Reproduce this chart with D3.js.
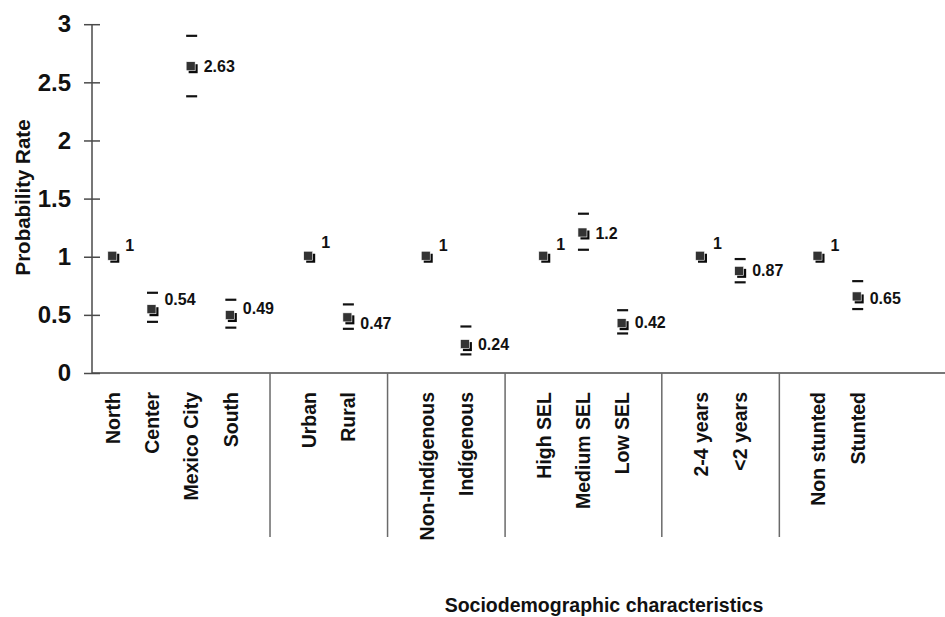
<!DOCTYPE html>
<html>
<head>
<meta charset="utf-8">
<script src="https://cdn.jsdelivr.net/npm/d3@7"></script>
<style>
  html, body { margin: 0; padding: 0; background: #fff; }
  svg { display: block; font-family: "Liberation Sans", Arial, sans-serif; }
</style>
</head>
<body>
<svg id="chart" width="945" height="617"></svg>
<script>
// Probability rate by sociodemographic characteristic (reference category = 1)
const categories = ["North", "Center", "Mexico City", "South",
                    "Urban", "Rural",
                    "Non-Indígenous", "Indígenous",
                    "High SEL", "Medium SEL", "Low SEL",
                    "2-4 years", "<2 years",
                    "Non stunted", "Stunted"];
const groupIndex = [0, 0, 0, 0, 1, 1, 2, 2, 3, 3, 3, 4, 4, 5, 5];
const rates   = [1, 0.54, 2.63, 0.49, 1, 0.47, 1, 0.24, 1, 1.2, 0.42, 1, 0.87, 1, 0.65];
const ciLower = [null, 0.44, 2.38, 0.39, null, 0.38, null, 0.16, null, 1.06, 0.34, null, 0.78, null, 0.55];
const ciUpper = [null, 0.69, 2.90, 0.63, null, 0.59, null, 0.40, null, 1.37, 0.54, null, 0.98, null, 0.79];
const yTicks = [0, 0.5, 1, 1.5, 2, 2.5, 3];
const yTickLabels = ["0", "0.5", "1", "1.5", "2", "2.5", "3"];
const yTitle = "Probability Rate";
const xTitle = "Sociodemographic characteristics";

// Each group is followed by one empty slot that holds the divider line
const slotOf = categories.map((c, i) => i + groupIndex[i]);
const nGroups = d3.max(groupIndex) + 1;
const nSlots = categories.length + nGroups - 1;
const dividerSlots = d3.range(nGroups - 1).map(g => d3.max(slotOf.filter((s, i) => groupIndex[i] === g)) + 1);

// Small vertical nudges for the value labels so they clear the whiskers
const labelShift = {
  "North": -11, "Urban": -14, "Non-Indígenous": -11, "High SEL": -12, "2-4 years": -13, "Non stunted": -11,
  "Center": -11, "Mexico City": -1, "South": -8, "Rural": 5, "Indígenous": -1,
  "Medium SEL": 0, "Low SEL": -2, "<2 years": -1, "Stunted": 1
};

const svg = d3.select("#chart");
const axisLeftX = 92, axisBottomY = 373;

const x = d3.scalePoint().domain(d3.range(nSlots)).range([113.3, 857.7]);
const y = d3.scaleLinear().domain([0, 3]).range([axisBottomY, 24.2]);

const axisColor = "#4a4a4a";

// Y axis with ticks crossing the line
const yAxis = d3.axisLeft(y)
  .tickValues(yTicks)
  .tickFormat((d, i) => yTickLabels[i])
  .tickSize(8)
  .tickPadding(13);

const gy = svg.append("g")
  .attr("transform", `translate(${axisLeftX},0)`)
  .call(yAxis);
gy.select(".domain").attr("stroke", axisColor).attr("stroke-width", 1.5)
  .attr("d", `M0,${y(3)}V${axisBottomY}`);
gy.selectAll(".tick line").attr("x1", -8).attr("x2", 8)
  .attr("stroke", axisColor).attr("stroke-width", 1.5);
gy.selectAll(".tick text")
  .attr("fill", "#111")
  .style("font-size", "24px")
  .style("font-weight", "bold");

// X axis baseline
svg.append("line")
  .attr("x1", axisLeftX).attr("x2", 945)
  .attr("y1", axisBottomY).attr("y2", axisBottomY)
  .attr("stroke", axisColor).attr("stroke-width", 1.5);

// Group dividers below the axis
svg.append("g").selectAll("line")
  .data(dividerSlots)
  .join("line")
  .attr("x1", d => x(d)).attr("x2", d => x(d))
  .attr("y1", axisBottomY).attr("y2", 537)
  .attr("stroke", "#6a6a6a").attr("stroke-width", 1.5);

// Category labels, rotated
svg.append("g").selectAll("text")
  .data(categories)
  .join("text")
  .attr("transform", (d, i) => `translate(${x(slotOf[i])},392) rotate(-90)`)
  .attr("text-anchor", "end")
  .attr("dy", "0.35em")
  .attr("fill", "#111")
  .style("font-size", "19.5px")
  .style("font-weight", "bold")
  .text(d => d);

// Axis titles
svg.append("text")
  .attr("transform", "translate(29.5,197.5) rotate(-90)")
  .attr("text-anchor", "middle")
  .attr("fill", "#111")
  .style("font-size", "20.5px")
  .style("font-weight", "bold")
  .text(yTitle);

svg.append("text")
  .attr("x", 604).attr("y", 612)
  .attr("text-anchor", "middle")
  .attr("fill", "#111")
  .style("font-size", "19.5px")
  .style("font-weight", "bold")
  .text(xTitle);

// Confidence interval end marks
const idx = d3.range(categories.length);
const ciEnds = idx.filter(i => ciLower[i] != null)
  .flatMap(i => [{ i, v: ciLower[i] }, { i, v: ciUpper[i] }]);
svg.append("g").selectAll("line")
  .data(ciEnds)
  .join("line")
  .attr("x1", d => x(slotOf[d.i]) - 5.5)
  .attr("x2", d => x(slotOf[d.i]) + 5.5)
  .attr("y1", d => y(d.v)).attr("y2", d => y(d.v))
  .attr("stroke", "#111").attr("stroke-width", 2.2);

// Point estimates: square with a drop shadow
const pts = svg.append("g").selectAll("g")
  .data(idx)
  .join("g")
  .attr("transform", i => `translate(${x(slotOf[i])},${y(rates[i])})`);
pts.append("rect")
  .attr("x", -3).attr("y", -3).attr("width", 9).attr("height", 9)
  .attr("fill", "#0a0a0a");
pts.append("rect")
  .attr("x", -5.5).attr("y", -5.5).attr("width", 9).attr("height", 9)
  .attr("fill", "#333")
  .attr("stroke", "#fff").attr("stroke-width", 0.6);

// Value labels
svg.append("g").selectAll("text")
  .data(idx)
  .join("text")
  .attr("x", i => x(slotOf[i]) + 12)
  .attr("y", i => y(rates[i]) + labelShift[categories[i]])
  .attr("dy", "0.35em")
  .attr("fill", "#111")
  .style("font-size", "16px")
  .style("font-weight", "bold")
  .text(i => String(rates[i]));
</script>
</body>
</html>
